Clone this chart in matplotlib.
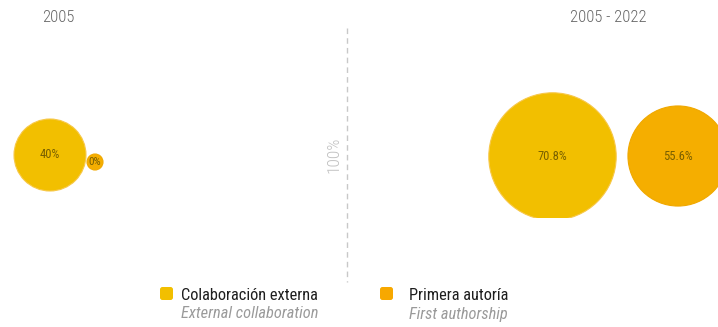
import matplotlib
matplotlib.use("Agg")
import matplotlib.pyplot as plt
from matplotlib import font_manager
from matplotlib.patches import Circle, Rectangle, FancyBboxPatch

# police étroite si disponible
installed = {f.name for f in font_manager.fontManager.ttflist}
candidates = ["Roboto Condensed", "Liberation Sans Narrow", "Open Sans Condensed",
              "Noto Sans Condensed", "Roboto", "DejaVu Sans"]
family = [f for f in candidates if f in installed][0]
plt.rcParams["font.family"] = [family, "DejaVu Sans"]

# --- données ---
periods = ["2005", "2005 - 2022"]
ext_collab = [40.0, 70.8]     # Colaboración externa (%)
first_author = [0.0, 55.6]    # Primera autoría (%)
series_es = ["Colaboración externa", "Primera autoría"]
series_en = ["External collaboration", "First authorship"]
colors = ["#F2BF00", "#F5AE00"]
ref_label = "100%"

# --- figure en pixels ---
W, H = 718, 327
fig = plt.figure(figsize=(W / 100, H / 100), dpi=100)
ax = fig.add_axes([0, 0, 1, 1])
ax.set_xlim(0, W)
ax.set_ylim(H, 0)
ax.set_aspect("equal")
ax.axis("off")

scale = 0.90      # rayon (px) par point de %
r_min = 8.0
label_color = "#6A5500"

def radius(v):
    return max(v * scale, r_min)

# centres des bulles par période: (série 1, série 2)
centers = [((50, 155), (95, 162)), ((552.5, 156.5), (678, 156))]
title_x = [58, 608]

clip = Rectangle((0, 20), W, 198, transform=ax.transData)

for i, p in enumerate(periods):
    ax.text(title_x[i], 17, p, ha="center", va="center", fontsize=12,
            color="#666666", fontweight="light")
    for j, vals in enumerate([ext_collab, first_author]):
        v = vals[i]
        cx, cy = centers[i][j]
        c = Circle((cx, cy), radius(v), facecolor=colors[j],
                   edgecolor="#F7C84A" if j == 0 else "#F0A800", lw=0.8)
        ax.add_patch(c)
        c.set_clip_path(clip)
        ax.text(cx, cy, f"{v:g}%", ha="center", va="center",
                fontsize=9 if v > 0 else 8, color=label_color, alpha=0.9)

# séparateur central
ax.plot([347, 347], [28, 282], color="#c8c8c8", lw=1, ls=(0, (4, 3)))
ax.text(334, 155, ref_label, rotation=90, ha="center", va="center",
        fontsize=12.5, color="#c0c0c0", fontweight="light")

# légende
leg_x = [160, 380]
for j in range(2):
    ax.add_patch(FancyBboxPatch((leg_x[j], 287), 13, 13,
                                boxstyle="round,pad=0,rounding_size=2.5",
                                facecolor=colors[j] if j == 0 else "#F7A800",
                                edgecolor="none"))
    tx = leg_x[j] + 21 if j == 0 else leg_x[j] + 29
    ax.text(tx, 296, series_es[j], ha="left", va="center", fontsize=11.8,
            color="#1e1e1e")
    ax.text(tx, 314, series_en[j], ha="left", va="center", fontsize=11.8,
            color="#9a9a9a", style="italic")

fig.savefig("out.png", dpi=100)
